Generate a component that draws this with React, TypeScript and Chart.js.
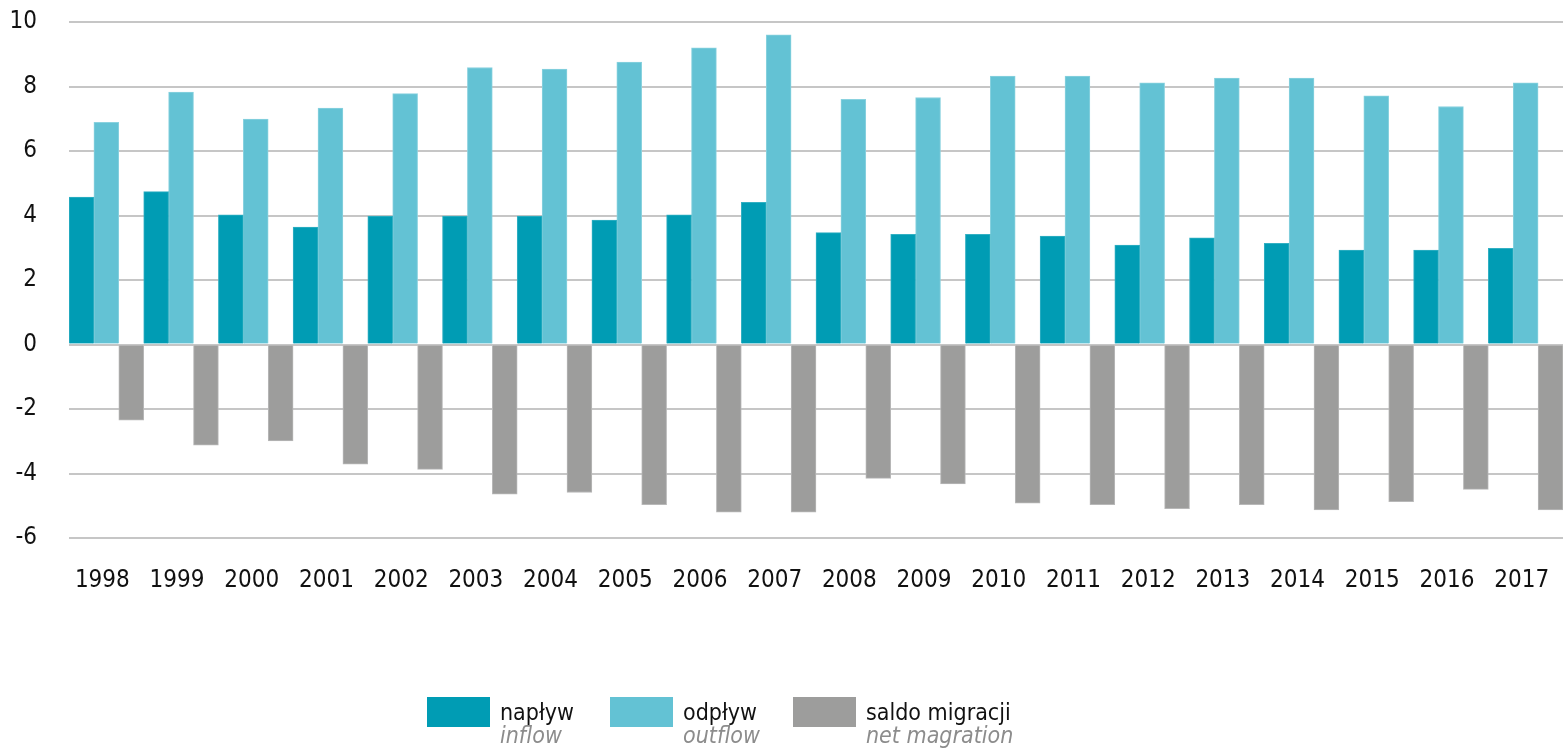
import React, { useEffect, useRef } from "react";
import { Chart, registerables } from "chart.js";

Chart.register(...registerables);

const years = ["1998", "1999", "2000", "2001", "2002", "2003", "2004", "2005", "2006", "2007", "2008", "2009", "2010", "2011", "2012", "2013", "2014", "2015", "2016", "2017"];
const inflow = [4.57, 4.74, 4.02, 3.64, 3.98, 3.98, 3.98, 3.86, 4.02, 4.41, 3.47, 3.42, 3.42, 3.36, 3.08, 3.31, 3.14, 2.93, 2.93, 2.98];
const outflow = [6.89, 7.83, 6.99, 7.33, 7.78, 8.59, 8.54, 8.76, 9.2, 9.6, 7.6, 7.66, 8.32, 8.32, 8.11, 8.26, 8.26, 7.71, 7.38, 8.11];
const netMigration = [-2.35, -3.12, -2.99, -3.71, -3.87, -4.64, -4.59, -4.97, -5.2, -5.2, -4.15, -4.32, -4.92, -4.97, -5.09, -4.97, -5.13, -4.87, -4.49, -5.13];
const yMin = -6;
const yMax = 10;
const yStep = 2;
const legendMain = ["napływ", "odpływ", "saldo migracji"];
const legendSub = ["inflow", "outflow", "net magration"];
const seriesColors = ["#009cb4", "#63c2d4", "#9d9d9c"];
const seriesEdges = ["#33b0c3", "#8ad2df", "#b8b8b8"];

const FONT = "'Liberation Sans Narrow', 'DejaVu Sans Condensed', 'Liberation Sans', sans-serif";

const legendPlugin = {
  id: "customLegend",
  afterDraw(chart: any) {
    const ctx = chart.ctx;
    const xs = [427, 610, 793];
    ctx.save();
    chart.data.datasets.forEach((ds: any, i: number) => {
      const x = xs[i];
      ctx.fillStyle = ds.backgroundColor;
      ctx.fillRect(x, 697, 63, 30);
      ctx.textAlign = "left";
      ctx.textBaseline = "alphabetic";
      ctx.font = `23px ${FONT}`;
      ctx.fillStyle = "#111111";
      ctx.fillText(legendMain[i], x + 73, 720);
      ctx.font = `italic 23px ${FONT}`;
      ctx.fillStyle = "#8c8c8c";
      ctx.fillText(legendSub[i], x + 73, 743);
    });
    ctx.restore();
  },
};

export default function App() {
  const ref = useRef<HTMLCanvasElement | null>(null);
  useEffect(() => {
    if (!ref.current) return;
    const mk = (label: string, data: number[], i: number) => ({
      label,
      data,
      backgroundColor: seriesColors[i],
      borderColor: seriesEdges[i],
      borderWidth: 1,
      barPercentage: 1,
      categoryPercentage: 1,
    });
    const chart = new Chart(ref.current, {
      type: "bar",
      data: {
        labels: years,
        datasets: [
          mk(legendMain[0], inflow, 0),
          mk(legendMain[1], outflow, 1),
          mk(legendMain[2], netMigration, 2),
        ],
      },
      options: {
        animation: false,
        responsive: true,
        maintainAspectRatio: false,
        layout: { padding: { top: 22, left: 0, right: 4, bottom: 0 } },
        plugins: { legend: { display: false }, tooltip: { enabled: false } },
        scales: {
          x: {
            grid: { display: false, drawTicks: false },
            border: { display: false },
            ticks: { font: { family: FONT, size: 24 }, color: "#111111", padding: 28, labelOffset: -4, maxRotation: 0, autoSkip: false },
            afterFit: (s: any) => { s.height = 212; s.paddingLeft = 0; s.paddingRight = 0; },
          },
          y: {
            min: yMin,
            max: yMax,
            grid: { color: "#c6c6c6", lineWidth: 2, drawTicks: false },
            border: { display: false },
            ticks: { stepSize: yStep, font: { family: FONT, size: 24 }, color: "#111111", padding: 32 },
            afterFit: (s: any) => { s.width = 69; s.paddingTop = 0; s.paddingBottom = 0; },
          },
        },
      },
      plugins: [legendPlugin],
    });
    return () => chart.destroy();
  }, []);
  return (
    <div style={{ position: "absolute", left: 0, top: 0, width: 1567, height: 750, background: "#fff" }}>
      <canvas ref={ref} />
    </div>
  );
}
